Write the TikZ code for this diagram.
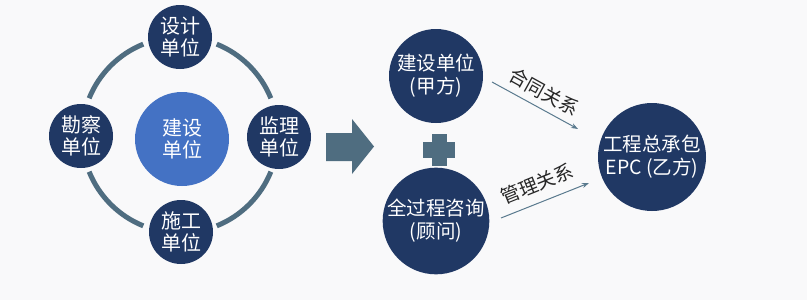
\documentclass[tikz,border=0pt]{standalone}
\usepackage{fontspec}
\setmainfont{Noto Sans CJK SC}
\usetikzlibrary{arrows.meta}
\definecolor{bgc}{HTML}{F9F9FA}
\definecolor{navy}{HTML}{203864}
\definecolor{midblue}{HTML}{4472C4}
\definecolor{slate}{HTML}{4F6D80}
\definecolor{linec}{HTML}{5A7A8E}
\tikzset{
  unit/.style={circle, fill=navy, text=white, minimum size=64pt, inner sep=0pt, align=center,
    font=\fontsize{20}{22}\selectfont},
  hub/.style={circle, fill=midblue, text=white, minimum size=94pt, inner sep=0pt, align=center,
    font=\fontsize{20}{22}\selectfont},
  party/.style={circle, fill=navy, text=white, minimum size=94pt, inner sep=0pt, align=center,
    font=\fontsize{19.5}{23}\selectfont},
  ringline/.style={draw=slate, line width=5pt},
  rel/.style={draw=linec, line width=1pt, -{Stealth[length=7pt,width=5pt]}},
  lab/.style={font=\fontsize{19}{20}\selectfont, text=black!85, inner sep=0pt},
  block/.style={fill=slate}
}
\begin{document}
\begin{tikzpicture}[x=1pt,y=-1pt]
\fill[bgc] (0,0) rectangle (807,300);
\useasboundingbox (0,0) rectangle (807,300);
% ring
\coordinate (c) at (180,135);
\foreach \a in {22,112,202,292}{
  \draw[ringline] ([shift={(\a:98)}]c) arc (\a:\a+46:98);
}
\node[hub] (hub) at (182,139) {建设\\单位};
\node[unit] (design) at (180,37) {设计\\单位};
\node[unit] (survey) at (81,136) {勘察\\单位};
\node[unit] (super) at (279,137) {监理\\单位};
\node[unit] (build) at (181,232) {施工\\单位};
% big arrow
\fill[block] (326,133) -- (352,133) -- (352,119) -- (374,146.5) -- (352,174) -- (352,161) -- (326,161) -- cycle;
% plus
\fill[block] (431.5,134) rectangle (446.5,166);
\fill[block] (423,142.3) rectangle (455,157.5);
% right side
\node[party] (owner) at (436,76) {建设单位\\(甲方)};
\node[party] (consult) at (436,221) {全过程咨询\\(顾问)};
\node[circle, fill=navy, text=white, minimum size=108pt, inner sep=0pt, align=center,
  font=\fontsize{19.5}{23}\selectfont] (epc) at (652,157) {工程总承包\\EPC (乙方)};
\coordinate (r1s) at (492,82);
\coordinate (r1e) at (578,129);
\coordinate (r2s) at (501,218);
\coordinate (r2e) at (589,183);
\draw[rel] (r1s) -- (r1e);
\draw[rel] (r2s) -- (r2e);
\node[lab, rotate=-29] (l1) at (544,92) {合同关系};
\node[lab, rotate=22] (l2) at (537,184) {管理关系};
\end{tikzpicture}
\end{document}
